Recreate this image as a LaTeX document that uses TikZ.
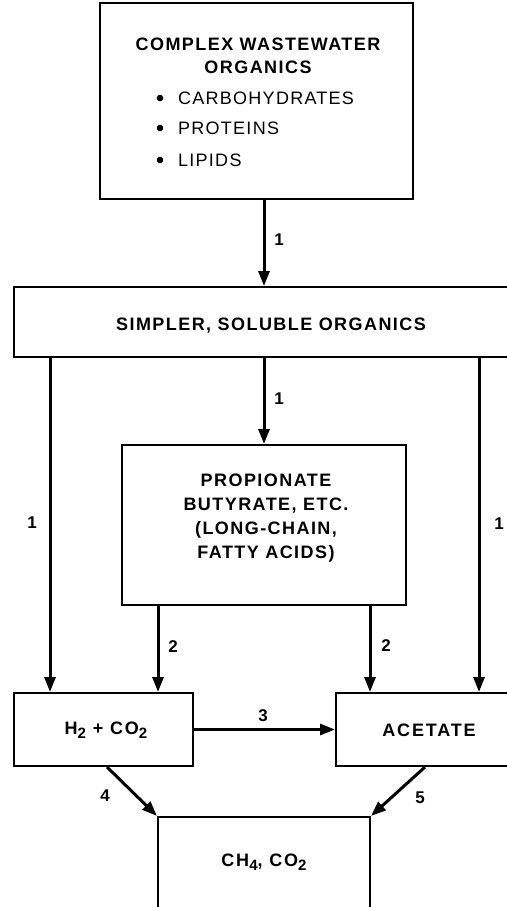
\documentclass[tikz,border=0pt]{standalone}
\usepackage{fontspec}
\setmainfont{Liberation Sans}
\usetikzlibrary{arrows.meta}
\newcommand{\mysub}[1]{\raisebox{-4pt}{\fontsize{15}{15}\selectfont #1}}
\tikzset{
  box/.style={draw, line width=2pt, minimum width=#1, inner sep=0pt},
  arr/.style={line width=3pt, -{Triangle[length=15pt,width=11pt]}},
  lab/.style={font=\fontsize{17}{17}\selectfont\bfseries, inner sep=0pt},
  ttl/.style={font=\fontsize{18}{23}\selectfont\bfseries, align=center, inner sep=0pt},
  itm/.style={font=\fontsize{18}{18}\selectfont, anchor=west, inner sep=0pt},
}
\begin{document}
\begin{tikzpicture}[x=1pt,y=-1pt]
\useasboundingbox (0,0) rectangle (506,907);
\fill[white] (0,0) rectangle (506,907);
% boxes
\node[box=313pt, minimum height=196pt] (top) at (256.5,101) {};
\node[box=506pt, minimum height=70pt] (simp) at (267,322) {};
\node[box=284pt, minimum height=160pt] (prop) at (264,525) {};
\node[box=179pt, minimum height=73pt] (h2) at (103.5,729.5) {};
\node[box=184pt, minimum height=73pt] (acet) at (428,729.5) {};
\node[box=212pt, minimum height=93pt] (ch4) at (264,863.5) {};
% texts
\node[ttl] (t1) at (258,56) {\addfontfeature{LetterSpace=8}COMPLEX WASTEWATER\\\addfontfeature{LetterSpace=8}ORGANICS};
\node[itm] (b1) at (178,98) {\addfontfeature{LetterSpace=7}CARBOHYDRATES};
\node[itm] (b2) at (178,128) {\addfontfeature{LetterSpace=7}PROTEINS};
\node[itm] (b3) at (178,160) {\addfontfeature{LetterSpace=7}LIPIDS};
\fill (160,98) circle (3.3pt) (160,128) circle (3.3pt) (160,160) circle (3.3pt);
\node[ttl] (t2) at (271,326) {\addfontfeature{LetterSpace=8}SIMPLER, SOLUBLE ORGANICS};
\node[ttl, font=\fontsize{18}{23.8}\selectfont\bfseries] (t3) at (266,518) {\addfontfeature{LetterSpace=8}PROPIONATE\\\addfontfeature{LetterSpace=8}BUTYRATE, ETC.\\\addfontfeature{LetterSpace=8}(LONG-CHAIN,\\\addfontfeature{LetterSpace=8}FATTY ACIDS)};
\node[ttl] (t4) at (106,730) {\addfontfeature{LetterSpace=10}H\mysub{2} + CO\mysub{2}};
\node[ttl] (t5) at (429,730) {\addfontfeature{LetterSpace=10}ACETATE};
\node[ttl] (t6) at (264,862) {\addfontfeature{LetterSpace=10}CH\mysub{4}, CO\mysub{2}};
% connectors
\draw[arr] (top.south -| 264,0) -- (simp.north -| 264,0);
\draw[arr] (simp.south -| 50,0) -- (h2.north -| 50,0);
\draw[arr] (simp.south -| 264,0) -- (prop.north -| 264,0);
\draw[arr] (simp.south -| 479,0) -- (acet.north -| 479,0);
\draw[arr] (prop.south -| 158,0) -- (h2.north -| 158,0);
\draw[arr] (prop.south -| 370,0) -- (acet.north -| 370,0);
\draw[arr] (h2.east) -- (acet.west);
\draw[arr] (h2.south -| 107,0) -- (ch4.north west);
\draw[arr] (acet.south -| 425,0) -- (ch4.north east);
% labels
\node[lab] (l1) at (279,240) {1};
\node[lab] (l2) at (279,399) {1};
\node[lab] (l3) at (32,523) {1};
\node[lab] (l4) at (499,524) {1};
\node[lab] (l5) at (173,647) {2};
\node[lab] (l6) at (386,646) {2};
\node[lab] (l7) at (263,716) {3};
\node[lab] (l8) at (105,796) {4};
\node[lab] (l9) at (420,798) {5};
\end{tikzpicture}
\end{document}
